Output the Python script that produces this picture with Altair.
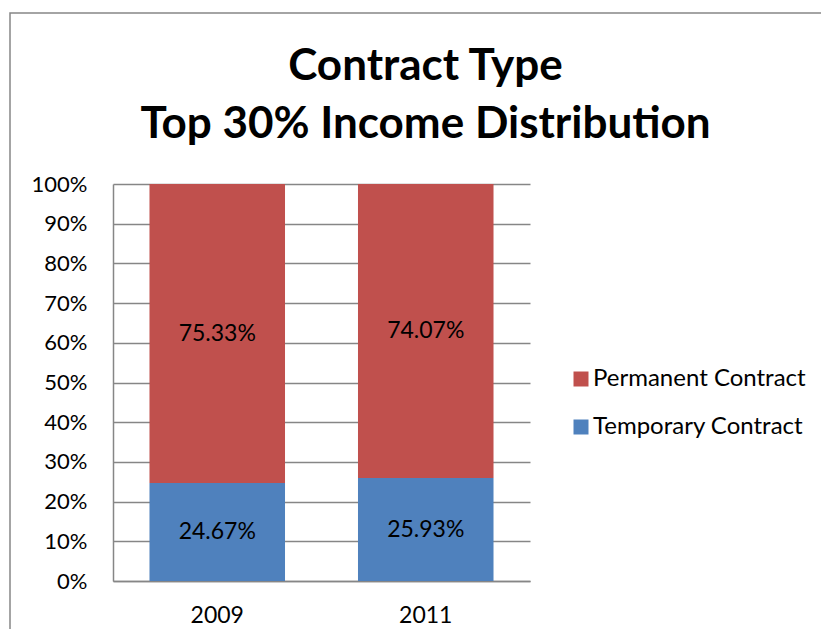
import altair as alt
import pandas as pd

years = ["2009", "2011"]
series = ["Permanent Contract", "Temporary Contract"]
permanent = [75.33, 74.07]
temporary = [24.67, 25.93]
colors = ["#C0504D", "#4F81BD"]
y_ticks = [0, 0.1, 0.2, 0.3, 0.4, 0.5, 0.6, 0.7, 0.8, 0.9, 1.0]

rows = []
for i, yr in enumerate(years):
    t = temporary[i] / 100
    p = permanent[i] / 100
    rows.append({"year": yr, "series": series[1], "value": t, "order": 0,
                 "mid": t / 2, "label": f"{temporary[i]:.2f}%"})
    rows.append({"year": yr, "series": series[0], "value": p, "order": 1,
                 "mid": t + p / 2, "label": f"{permanent[i]:.2f}%"})
df = pd.DataFrame(rows)

FONT = "Lato"
GRID = "#868686"

x_scale = alt.Scale(paddingInner=0.35, paddingOuter=0.175)
x_axis = alt.Axis(labelAngle=0, labelFontSize=23, labelFont=FONT,
                  labelColor="#000000", ticks=False, labelPadding=23,
                  domainColor=GRID, domainWidth=1.5, grid=False)
y_scale = alt.Scale(domain=[0, 1], nice=False)
y_axis = alt.Axis(values=y_ticks, format=".0%", labelFontSize=22,
                  labelFont=FONT, labelColor="#000000", ticks=False,
                  labelOverlap=False, tickCount=11,
                  labelPadding=26, grid=True, gridColor=GRID,
                  gridWidth=1.5, domainColor=GRID, domainWidth=1.5)

bars = alt.Chart(df).mark_bar().encode(
    x=alt.X("year:N", title=None, scale=x_scale, axis=x_axis),
    y=alt.Y("value:Q", stack="zero", title=None, scale=y_scale, axis=y_axis),
    color=alt.Color("series:N",
                    scale=alt.Scale(domain=series, range=colors),
                    legend=alt.Legend(title=None, orient="none", legendX=456,
                                      legendY=183, symbolType="square",
                                      symbolSize=225, symbolStrokeWidth=0,
                                      labelFontSize=24, labelFont=FONT,
                                      labelColor="#000000", labelOffset=0,
                                      labelLimit=400,
                                      rowPadding=24, padding=0)),
    order=alt.Order("order:Q"),
)

labels = alt.Chart(df).mark_text(fontSize=23, font=FONT, color="#000000",
                                 baseline="middle", align="center").encode(
    x=alt.X("year:N", title=None, scale=x_scale, axis=x_axis),
    y=alt.Y("mid:Q", title=None, scale=y_scale, axis=y_axis),
    text="label:N",
)

border = alt.Chart(alt.Data(values=[{}])).mark_rect(
    fill=None, stroke=GRID, strokeWidth=1.5).encode(
    x=alt.value(-103), x2=alt.value(800),
    y=alt.value(-171), y2=alt.value(600),
)

chart = alt.layer(border, bars, labels).properties(
    width=417, height=397,
    background="#ffffff",
    autosize=alt.AutoSizeParams(type="none"),
    padding={"left": 105, "top": 176, "right": 291, "bottom": 48},
    title=alt.Title(["Contract Type", "Top 30% Income Distribution"],
                    fontSize=44, font=FONT, fontWeight="bold",
                    color="#000000", anchor="middle", frame="group",
                    dx=104, lineHeight=58, offset=-135),
).configure_view(strokeWidth=0)

chart.save("out.html", embed_options={"renderer": "svg", "actions": False})
